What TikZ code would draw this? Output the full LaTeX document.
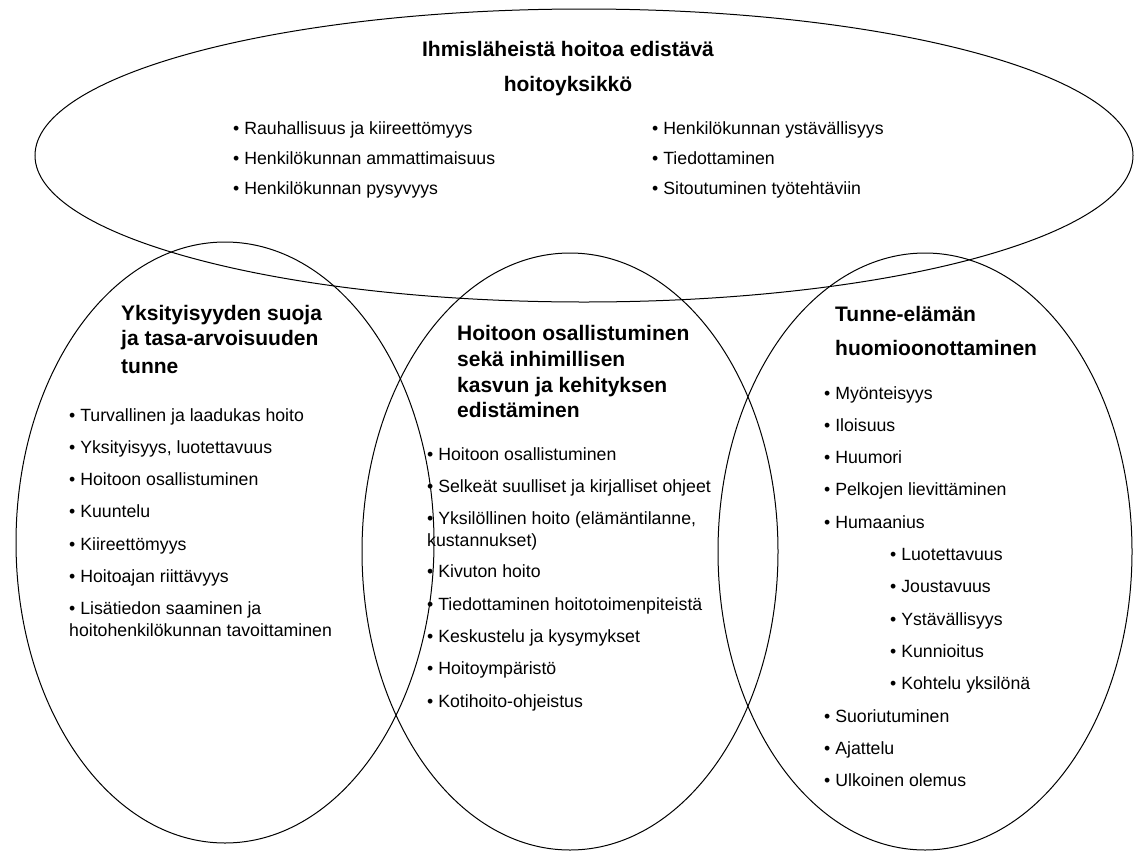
\documentclass[tikz,border=0pt]{standalone}
\usepackage{fontspec}
\setmainfont{Liberation Sans}
\usepackage{tikz}

\begin{document}
\begin{tikzpicture}[x=1pt,y=-1pt,
    item/.style={anchor=base west,inner sep=0pt,font=\fontsize{17.7}{21}\selectfont},
    head/.style={anchor=base west,inner sep=0pt,font=\bfseries\fontsize{21}{25}\selectfont},
    ring/.style={draw,line width=1pt}]
  \useasboundingbox (0,0) rectangle (1135,852);

  \draw [ring] (584,155.5) ellipse [x radius=549pt, y radius=146.5pt];
  \draw [ring] (225,542.5) ellipse [x radius=209pt, y radius=300.5pt];
  \draw [ring] (570,551.5) ellipse [x radius=208pt, y radius=298.5pt];
  \draw [ring] (925,551.5) ellipse [x radius=207pt, y radius=298.5pt];

  \node [head,anchor=base] (top1) at (568,56.7) {Ihmisläheistä hoitoa edistävä};
  \node [head,anchor=base] (top2) at (568,91.7) {hoitoyksikkö};
  \foreach \t [count=\i] in {Rauhallisuus ja kiireettömyys, Henkilökunnan ammattimaisuus, Henkilökunnan pysyvyys}
    \node [item] (ta\i) at (233,104+30*\i) {• \t};
  \foreach \t [count=\i] in {Henkilökunnan ystävällisyys, Tiedottaminen, Sitoutuminen työtehtäviin}
    \node [item] (tb\i) at (652,104+30*\i) {• \t};

  \node [head] (l1) at (121,320) {Yksityisyyden suoja};
  \node [head] (l2) at (121,345) {ja tasa-arvoisuuden};
  \node [head] (l3) at (121,373.3) {tunne};
  \foreach \t [count=\i] in {Turvallinen ja laadukas hoito, {Yksityisyys, luotettavuus}, Hoitoon osallistuminen, Kuuntelu, Kiireettömyys, Hoitoajan riittävyys, Lisätiedon saaminen ja}
    \node [item] (la\i) at (69,388.7+32.3*\i) {• \t};
  \node [item] (la8) at (69,636) {hoitohenkilökunnan tavoittaminen};

  \node [head] (m1) at (457,340) {Hoitoon osallistuminen};
  \node [head] (m2) at (457,366) {sekä inhimillisen};
  \node [head] (m3) at (457,392) {kasvun ja kehityksen};
  \node [head] (m4) at (457,417) {edistäminen};
  \foreach \t [count=\i] in {Hoitoon osallistuminen, Selkeät suulliset ja kirjalliset ohjeet, {Yksilöllinen hoito (elämäntilanne,}}
    \node [item] (ma\i) at (427,427.7+32.3*\i) {• \t};
  \node [item] (mw) at (427,546) {kustannukset)};
  \foreach \t [count=\i] in {Kivuton hoito, Tiedottaminen hoitotoimenpiteistä, Keskustelu ja kysymykset, Hoitoympäristö, Kotihoito-ohjeistus}
    \node [item] (mb\i) at (427,545.6+32.3*\i) {• \t};

  \node [head] (r1) at (835,321) {Tunne-elämän};
  \node [head] (r2) at (835,355) {huomioonottaminen};
  \foreach \x/\t [count=\i] in {824/Myönteisyys, 824/Iloisuus, 824/Huumori, 824/Pelkojen lievittäminen, 824/Humaanius,
      890/Luotettavuus, 890/Joustavuus, 890/Ystävällisyys, 890/Kunnioitus, 890/Kohtelu yksilönä,
      824/Suoriutuminen, 824/Ajattelu, 824/Ulkoinen olemus}
    \node [item] (ra\i) at (\x,366.7+32.3*\i) {• \t};
\end{tikzpicture}
\end{document}
